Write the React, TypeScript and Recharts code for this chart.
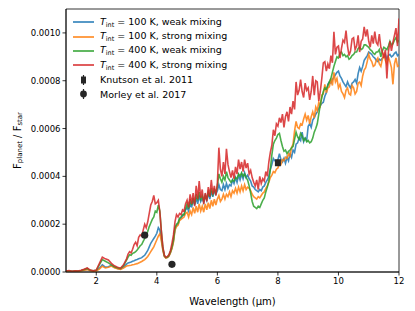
import React from "react";
import {
  ComposedChart,
  Line,
  Scatter,
  ErrorBar,
  XAxis,
  YAxis,
  Legend,
  ReferenceArea,
} from "recharts";

// wavelength grid in micron (coarser below 3 um where the spectra are flat)
const wavelengths = [
  1.0, 1.1, 1.2, 1.3, 1.4, 1.5, 1.6, 1.7, 1.8, 1.9,
  2.0, 2.1, 2.2, 2.3, 2.4, 2.5, 2.6, 2.7, 2.8, 2.9,
  3.0, 3.05, 3.1, 3.15, 3.2, 3.25, 3.3, 3.35, 3.4, 3.45, 3.5, 3.55, 3.6, 3.65, 3.7, 3.75, 3.8, 3.85, 3.9, 3.95,
  4.0, 4.05, 4.1, 4.15, 4.2, 4.25, 4.3, 4.35, 4.4, 4.45, 4.5, 4.55, 4.6, 4.65, 4.7, 4.75, 4.8, 4.85, 4.9, 4.95,
  5.0, 5.05, 5.1, 5.15, 5.2, 5.25, 5.3, 5.35, 5.4, 5.45, 5.5, 5.55, 5.6, 5.65, 5.7, 5.75, 5.8, 5.85, 5.9, 5.95,
  6.0, 6.05, 6.1, 6.15, 6.2, 6.25, 6.3, 6.35, 6.4, 6.45, 6.5, 6.55, 6.6, 6.65, 6.7, 6.75, 6.8, 6.85, 6.9, 6.95,
  7.0, 7.05, 7.1, 7.15, 7.2, 7.25, 7.3, 7.35, 7.4, 7.45, 7.5, 7.55, 7.6, 7.65, 7.7, 7.75, 7.8, 7.85, 7.9, 7.95,
  8.0, 8.05, 8.1, 8.15, 8.2, 8.25, 8.3, 8.35, 8.4, 8.45, 8.5, 8.55, 8.6, 8.65, 8.7, 8.75, 8.8, 8.85, 8.9, 8.95,
  9.0, 9.05, 9.1, 9.15, 9.2, 9.25, 9.3, 9.35, 9.4, 9.45, 9.5, 9.55, 9.6, 9.65, 9.7, 9.75, 9.8, 9.85, 9.9, 9.95,
  10.0, 10.05, 10.1, 10.15, 10.2, 10.25, 10.3, 10.35, 10.4, 10.45, 10.5, 10.55, 10.6, 10.65, 10.7, 10.75, 10.8, 10.85, 10.9, 10.95,
  11.0, 11.05, 11.1, 11.15, 11.2, 11.25, 11.3, 11.35, 11.4, 11.45, 11.5, 11.55, 11.6, 11.65, 11.7, 11.75, 11.8, 11.85, 11.9, 11.95, 12.0,
];

// flux ratios, in units of 1e-4
const t100Weak = [
  0.02, 0.04, 0.02, 0.03, 0.03, 0.05, 0.08, 0.12, 0.05, 0.04,
  0.05, 0.16, 0.30, 0.20, 0.22, 0.28, 0.20, 0.15, 0.12, 0.20,
  0.33, 0.38, 0.40, 0.42, 0.45, 0.47, 0.50, 0.52, 0.55, 0.57, 0.60, 0.65, 0.70, 0.80, 0.90, 1.05, 1.20, 1.30, 1.40, 1.50,
  1.62, 1.85, 1.75, 1.40, 0.95, 0.66, 0.60, 0.62, 0.68, 0.82, 1.00, 1.30, 1.80, 1.95, 2.00, 2.20, 2.25, 2.35, 2.40, 2.60,
  2.70, 2.55, 2.90, 2.70, 3.05, 2.80, 3.10, 2.85, 3.20, 2.95, 3.10, 2.90, 3.20, 3.00, 3.30, 3.05, 3.40, 3.15, 3.40, 3.25,
  3.40, 3.65, 3.45, 3.40, 3.65, 3.45, 3.70, 3.50, 3.65, 3.60, 3.85, 3.70, 3.95, 3.75, 4.05, 3.85, 4.10, 3.90, 4.15, 3.95,
  4.05, 3.90, 3.80, 3.60, 3.55, 3.45, 3.40, 3.35, 3.45, 3.40, 3.55, 3.60, 3.75, 3.85, 4.00, 4.30, 4.50, 4.75, 4.65, 4.60,
  4.70, 4.95, 4.70, 4.60, 4.75, 4.55, 4.80, 4.65, 4.95, 4.80, 5.10, 5.00, 5.35, 5.40, 5.60, 5.50, 5.85, 5.45, 5.60, 5.50,
  6.10, 6.20, 6.05, 6.35, 6.45, 6.60, 6.70, 6.85, 6.95, 7.05, 7.10, 7.35, 7.50, 7.85, 7.95, 7.90, 8.05, 8.15, 8.25, 8.35,
  8.40, 8.20, 8.10, 7.95, 7.85, 7.75, 7.95, 7.80, 7.70, 7.90, 7.95, 8.05, 7.90, 8.30, 8.55, 8.40, 8.60, 8.85, 8.95, 9.05,
  9.20, 9.15, 9.10, 9.00, 8.95, 8.85, 8.80, 8.90, 8.85, 8.95, 9.00, 9.10, 8.90, 9.05, 9.10, 9.00, 9.05, 9.15, 9.20, 9.05, 9.10,
];

const t100Strong = [
  0.02, 0.03, 0.02, 0.03, 0.03, 0.04, 0.07, 0.10, 0.05, 0.03,
  0.04, 0.12, 0.24, 0.17, 0.20, 0.25, 0.18, 0.14, 0.11, 0.17,
  0.25, 0.26, 0.27, 0.28, 0.30, 0.31, 0.33, 0.35, 0.38, 0.41, 0.44, 0.48, 0.52, 0.58, 0.65, 0.75, 0.85, 0.95, 1.05, 1.20,
  1.35, 1.50, 1.60, 1.30, 0.90, 0.64, 0.58, 0.60, 0.66, 0.80, 0.98, 1.25, 1.75, 1.90, 1.95, 2.15, 2.20, 2.25, 2.30, 2.45,
  2.50, 2.30, 2.55, 2.40, 2.70, 2.45, 2.75, 2.50, 2.85, 2.55, 2.75, 2.50, 2.85, 2.60, 2.90, 2.65, 3.00, 2.75, 3.05, 2.80,
  3.05, 3.20, 2.95, 3.05, 3.25, 3.05, 3.25, 3.15, 3.35, 3.15, 3.40, 3.30, 3.50, 3.30, 3.55, 3.35, 3.60, 3.40, 3.65, 3.45,
  3.55, 3.50, 3.40, 3.25, 3.15, 3.10, 3.05, 3.15, 3.10, 3.20, 3.30, 3.35, 3.50, 3.60, 3.75, 3.95, 4.05, 4.20, 4.15, 4.30,
  4.35, 4.55, 4.50, 4.70, 4.65, 4.80, 4.75, 4.95, 4.85, 5.20, 5.35, 5.90, 6.30, 6.05, 6.00, 6.20, 6.15, 6.40, 6.60, 6.35,
  6.55, 6.20, 6.50, 6.70, 6.45, 6.90, 6.75, 7.10, 6.95, 7.40, 7.45, 7.85, 7.50, 7.70, 7.75, 8.10, 7.80, 8.35, 7.95, 8.10,
  7.70, 7.85, 7.55, 7.45, 7.30, 7.60, 7.70, 7.45, 7.40, 7.80, 7.70, 7.45, 7.55, 7.90, 7.95, 7.80, 8.20, 8.45, 8.55, 8.80,
  9.10, 8.90, 8.80, 8.60, 8.65, 8.85, 8.95, 8.70, 8.60, 8.90, 9.10, 8.85, 8.70, 9.00, 8.80, 8.55, 7.85, 8.70, 8.95, 8.60, 8.65,
];

const t400Weak = [
  0.03, 0.05, 0.03, 0.04, 0.04, 0.06, 0.10, 0.15, 0.07, 0.05,
  0.07, 0.30, 0.52, 0.45, 0.38, 0.30, 0.22, 0.18, 0.15, 0.26,
  0.50, 0.62, 0.72, 0.70, 0.78, 0.80, 0.85, 0.92, 1.00, 1.10, 1.15, 1.28, 1.40, 1.55, 1.70, 1.90, 2.05, 2.20, 2.30, 2.55,
  2.50, 2.80, 2.55, 1.70, 1.00, 0.68, 0.60, 0.62, 0.70, 0.85, 1.05, 1.35, 1.85, 2.00, 2.05, 2.25, 2.30, 2.40, 2.40, 2.65,
  2.85, 2.65, 3.05, 2.80, 3.10, 2.85, 3.25, 3.00, 3.35, 3.05, 3.20, 2.95, 3.20, 3.05, 3.35, 3.15, 3.50, 3.25, 3.45, 3.30,
  3.60, 4.10, 3.90, 3.75, 4.00, 3.85, 4.20, 3.95, 3.85, 3.75, 3.85, 3.80, 3.95, 3.90, 4.10, 4.00, 4.15, 4.00, 4.10, 3.95,
  3.85, 3.60, 3.30, 2.95, 2.75, 2.70, 2.65, 2.75, 2.70, 2.85, 3.00, 3.10, 3.35, 3.55, 3.80, 4.30, 4.90, 5.35, 5.50, 5.60,
  5.75, 5.80, 5.50, 5.25, 5.05, 5.10, 4.95, 5.05, 5.10, 5.20, 5.25, 5.55, 5.85, 5.65, 5.55, 5.80, 5.70, 5.50, 5.60, 5.45,
  5.50, 5.40, 5.45, 5.60, 5.85, 6.00, 6.20, 6.60, 7.00, 7.30, 7.55, 7.70, 7.65, 7.80, 7.95, 8.10, 8.35, 8.60, 8.80, 9.00,
  8.95, 9.15, 9.20, 9.05, 9.10, 9.00, 9.05, 8.90, 8.95, 9.05, 9.10, 9.20, 9.20, 9.35, 9.40, 9.30, 9.35, 9.50, 9.50, 9.45,
  9.40, 9.30, 9.25, 9.15, 9.10, 9.20, 9.20, 9.30, 9.00, 9.25, 9.40, 9.35, 9.30, 9.45, 9.65, 9.50, 9.55, 9.70, 9.80, 9.60, 9.70,
];

const t400Strong = [
  0.04, 0.06, 0.03, 0.05, 0.04, 0.07, 0.12, 0.17, 0.08, 0.05,
  0.08, 0.35, 0.62, 0.55, 0.50, 0.36, 0.26, 0.20, 0.16, 0.30,
  0.55, 0.75, 0.85, 0.80, 0.95, 1.15, 1.25, 1.10, 1.45, 1.55, 1.50, 1.75, 2.00, 1.85, 2.10, 2.45, 2.80, 2.95, 3.20, 2.85,
  2.90, 3.00, 2.50, 1.70, 1.05, 0.70, 0.62, 0.65, 0.72, 0.90, 1.20, 1.55, 2.10, 2.40, 2.30, 2.45, 2.40, 2.60, 2.55, 2.85,
  3.00, 2.70, 3.25, 2.85, 3.30, 2.75, 3.60, 3.05, 3.80, 3.10, 3.45, 2.85, 3.30, 2.95, 3.55, 3.15, 3.85, 3.25, 3.60, 3.20,
  3.70, 5.20, 4.30, 4.00, 4.60, 4.10, 5.15, 4.50, 4.20, 3.95, 4.25, 3.90, 4.40, 4.10, 4.70, 4.30, 4.60, 4.20, 4.70, 4.35,
  4.55, 4.10, 4.25, 3.95, 3.75, 3.60, 3.85, 3.45, 4.00, 3.70, 3.90, 3.80, 4.20, 4.00, 4.60, 5.00, 5.30, 5.95, 5.70, 6.20,
  6.10, 6.45, 6.25, 6.60, 6.05, 6.50, 6.70, 6.30, 6.90, 6.60, 7.15, 6.80, 7.95, 7.40, 7.60, 8.05, 7.55, 7.30, 7.90, 7.60,
  7.70, 7.20, 7.55, 8.20, 7.40, 8.00, 7.95, 7.15, 7.55, 8.10, 8.75, 8.80, 8.40, 8.70, 8.50, 9.05, 8.75, 10.05, 9.10, 9.40,
  9.45, 8.95, 9.35, 9.70, 9.60, 10.10, 9.45, 9.05, 9.25, 9.75, 9.80, 9.30, 9.45, 9.90, 9.20, 9.65, 9.75, 10.25, 9.85, 10.15,
  9.65, 9.40, 9.90, 9.55, 10.05, 9.60, 9.50, 9.95, 9.40, 9.20, 8.95, 9.30, 8.10, 9.20, 9.65, 9.25, 9.60, 9.90, 10.20, 9.45, 10.60,
];

// observations (1e-4)
const knutsonWl = [8.0];
const knutsonFlux = [4.57];
const knutsonErr = [0.1];
const morleyWl = [3.6, 4.5];
const morleyFlux = [1.54, 0.32];
const morleyErr = [0.1, 0.1];

const xTicks = [2, 4, 6, 8, 10, 12];
const yTicks = [0, 0.0002, 0.0004, 0.0006, 0.0008, 0.001];

const SCALE = 1e-4;
const FONT = "DejaVu Sans";
const INK = "#262626";

const series = [
  { key: "t100Weak", color: "#1f77b4", temp: "100", mix: "weak" },
  { key: "t100Strong", color: "#ff7f0e", temp: "100", mix: "strong" },
  { key: "t400Weak", color: "#2ca02c", temp: "400", mix: "weak" },
  { key: "t400Strong", color: "#d62728", temp: "400", mix: "strong" },
];

const data = wavelengths.map((wl, i) => ({
  wl,
  t100Weak: t100Weak[i] * SCALE,
  t100Strong: t100Strong[i] * SCALE,
  t400Weak: t400Weak[i] * SCALE,
  t400Strong: t400Strong[i] * SCALE,
}));

const knutson = knutsonWl.map((wl, i) => ({
  wl,
  flux: knutsonFlux[i] * SCALE,
  err: knutsonErr[i] * SCALE,
}));
const morley = morleyWl.map((wl, i) => ({
  wl,
  flux: morleyFlux[i] * SCALE,
  err: morleyErr[i] * SCALE,
}));

const SquareDot = (props: any) => (
  <rect x={props.cx - 3} y={props.cy - 3.5} width={6} height={7} fill={INK} />
);
const RoundDot = (props: any) => <circle cx={props.cx} cy={props.cy} r={3.6} fill={INK} />;

function LegendBox() {
  const row: React.CSSProperties = {
    display: "flex",
    alignItems: "center",
    height: 14.4,
    whiteSpace: "nowrap",
  };
  const text: React.CSSProperties = { fontSize: 9.5, color: "#000", fontFamily: FONT };
  return (
    <div style={{ fontFamily: FONT }}>
      {series.map((s) => (
        <div key={s.key} style={row}>
          <svg width={28} height={6}>
            <line x1={1} x2={22} y1={3} y2={3} stroke={s.color} strokeWidth={1.5} />
          </svg>
          <span style={text}>
            <i>T</i>
            <sub style={{ fontSize: 6.5, verticalAlign: -2 }}>int</sub> = {s.temp} K, {s.mix} mixing
          </span>
        </div>
      ))}
      <div style={row}>
        <svg width={28} height={12}>
          <line x1={11.5} x2={11.5} y1={1} y2={11} stroke={INK} strokeWidth={1.2} />
          <rect x={9} y={2.5} width={5} height={7} fill={INK} />
        </svg>
        <span style={text}>Knutson et al. 2011</span>
      </div>
      <div style={row}>
        <svg width={28} height={12}>
          <line x1={11.5} x2={11.5} y1={1} y2={11} stroke={INK} strokeWidth={1.2} />
          <circle cx={11.5} cy={6} r={3.4} fill={INK} />
        </svg>
        <span style={text}>Morley et al. 2017</span>
      </div>
    </div>
  );
}

const YLabel = (props: any) => {
  const cy = props.viewBox.y + props.viewBox.height / 2;
  return (
    <text
      x={17}
      y={cy}
      transform={`rotate(-90, 17, ${cy})`}
      textAnchor="middle"
      fontFamily={FONT}
      fontSize={10}
      fill="#000"
      dominantBaseline="central"
    >
      <tspan>F</tspan>
      <tspan fontSize={7} dy={2.5}>planet</tspan>
      <tspan dy={-2.5}> / F</tspan>
      <tspan fontSize={7} dy={2.5}>star</tspan>
    </text>
  );
};

export default function App() {
  return (
    <div style={{ position: "absolute", left: 0, top: 0, width: 415, height: 311, background: "#fff" }}>
      <ComposedChart
        width={415}
        height={311}
        data={data}
        margin={{ top: 9, right: 16, left: 0, bottom: 0 }}
      >
        <XAxis
          dataKey="wl"
          type="number"
          domain={[1, 12]}
          ticks={xTicks}
          allowDataOverflow
          height={39}
          tickSize={3.5}
          tickLine={{ stroke: "#000", strokeWidth: 0.8 }}
          axisLine={{ stroke: "#000", strokeWidth: 0.8 }}
          tick={{ fontFamily: FONT, fontSize: 8.5, fill: "#000" }}
          label={{
            value: "Wavelength (\u03bcm)",
            position: "insideBottom",
            offset: 6,
            style: { fontFamily: FONT, fontSize: 10, fill: "#000" },
          }}
        />
        <YAxis
          type="number"
          domain={[0, 0.0011]}
          ticks={yTicks}
          allowDataOverflow
          width={66}
          tickSize={3.5}
          tickLine={{ stroke: "#000", strokeWidth: 0.8 }}
          axisLine={{ stroke: "#000", strokeWidth: 0.8 }}
          tick={{ fontFamily: FONT, fontSize: 8.5, fill: "#000" }}
          tickFormatter={(v: number) => v.toFixed(4)}
          label={<YLabel />}
        />
        <ReferenceArea
          x1={1}
          x2={12}
          y1={0}
          y2={0.0011}
          fill="none"
          stroke="#000"
          strokeWidth={0.8}
          ifOverflow="visible"
        />
        {series.map((s) => (
          <Line
            key={s.key}
            dataKey={s.key}
            type="linear"
            stroke={s.color}
            strokeWidth={1.6}
            strokeOpacity={0.85}
            dot={false}
            activeDot={false}
            isAnimationActive={false}
          />
        ))}
        <Scatter data={knutson} dataKey="flux" shape={<SquareDot />} isAnimationActive={false}>
          <ErrorBar dataKey="err" direction="y" width={0} stroke={INK} strokeWidth={1.2} />
        </Scatter>
        <Scatter data={morley} dataKey="flux" shape={<RoundDot />} isAnimationActive={false}>
          <ErrorBar dataKey="err" direction="y" width={0} stroke={INK} strokeWidth={1.2} />
        </Scatter>
        <Legend
          layout="vertical"
          align="center"
          verticalAlign="middle"
          wrapperStyle={{ left: 72, top: 15, width: "auto" }}
          content={() => <LegendBox />}
        />
      </ComposedChart>
    </div>
  );
}
